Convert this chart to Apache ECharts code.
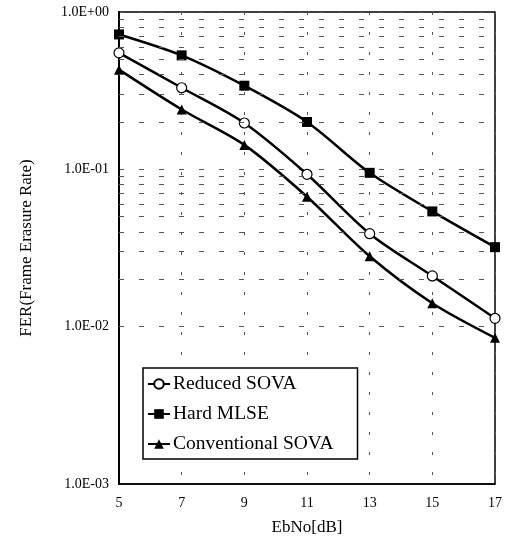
<!DOCTYPE html>
<html>
<head>
<meta charset="utf-8">
<script src="https://cdn.jsdelivr.net/npm/echarts@6/dist/echarts.min.js"></script>
<style>
  html, body { margin: 0; padding: 0; background: #fff; }
  #chart { width: 515px; height: 544px; }
</style>
</head>
<body>
<div id="chart"></div>
<script>
// x categories (EbNo in dB)
const ebno = ['5', '7', '9', '11', '13', '15', '17']

// FER values
const reducedSova = [0.55, 0.33, 0.197, 0.093, 0.039, 0.021, 0.0113]
const hardMlse = [0.72, 0.53, 0.34, 0.2, 0.095, 0.054, 0.032]
const conventionalSova = [0.43, 0.24, 0.143, 0.067, 0.028, 0.0141, 0.0085]

// minor log grid lines (2..9 of each decade)
const minorTicks = [
  0.002, 0.003, 0.004, 0.005, 0.006, 0.007, 0.008, 0.009,
  0.02, 0.03, 0.04, 0.05, 0.06, 0.07, 0.08, 0.09,
  0.2, 0.3, 0.4, 0.5, 0.6, 0.7, 0.8, 0.9
]

const FONT = '"Liberation Serif", "DejaVu Serif", serif'

// 0.01 -> "1.0E-02"
function sciLabel(v) {
  const exp = Math.round(Math.log10(v))
  const mant = v / Math.pow(10, exp)
  const sign = exp < 0 ? '-' : '+'
  const e = String(Math.abs(exp)).padStart(2, '0')
  return mant.toFixed(1) + 'E' + sign + e
}

const chart = echarts.init(document.getElementById('chart'))

const gridDash = { color: '#555', width: 1, type: [5, 15] }

chart.setOption({
  animation: false,
  grid: {
    left: 119, right: 20, top: 12, bottom: 60,
    show: true, borderColor: '#000', borderWidth: 1.5
  },
  legend: {
    orient: 'vertical',
    left: 143,
    top: 368,
    data: ['Reduced SOVA', 'Hard MLSE', 'Conventional SOVA'],
    backgroundColor: '#fff',
    borderColor: '#000',
    borderWidth: 1.5,
    padding: [6, 24, 5, 4],
    itemGap: 10,
    itemWidth: 22,
    itemHeight: 12,
    textStyle: { fontFamily: FONT, fontSize: 19.5, color: '#000', padding: [0, 0, 0, -2] }
  },
  xAxis: {
    type: 'category',
    data: ebno,
    boundaryGap: false,
    name: 'EbNo[dB]',
    nameLocation: 'middle',
    nameGap: 35,
    nameTextStyle: { fontFamily: FONT, fontSize: 17, color: '#000' },
    axisLine: { lineStyle: { color: '#000', width: 1.5 } },
    axisTick: { show: false },
    axisLabel: { fontFamily: FONT, fontSize: 14, color: '#000', margin: 12 },
    splitLine: { show: true, lineStyle: { color: '#555', width: 1, type: [3, 17] } }
  },
  yAxis: {
    type: 'log',
    logBase: 10,
    min: 0.001,
    max: 1,
    name: 'FER(Frame Erasure Rate)',
    nameLocation: 'middle',
    nameGap: 84,
    nameTextStyle: { fontFamily: FONT, fontSize: 17, color: '#000' },
    axisLine: { show: true, lineStyle: { color: '#000', width: 2 } },
    axisTick: { show: false },
    axisLabel: {
      fontFamily: FONT, fontSize: 14, color: '#000', margin: 10,
      formatter: sciLabel
    },
    splitLine: { show: true, lineStyle: gridDash }
  },
  series: [
    {
      name: 'grid',
      type: 'line',
      data: [],
      z: 1,
      markLine: {
        silent: true,
        symbol: 'none',
        label: { show: false },
        lineStyle: gridDash,
        data: minorTicks.map(v => ({ yAxis: v }))
      }
    },
    {
      name: 'Reduced SOVA',
      type: 'line',
      data: reducedSova,
      smooth: 0.3,
      symbol: 'circle',
      symbolSize: 10,
      itemStyle: { color: '#fff', borderColor: '#000', borderWidth: 1.2 },
      lineStyle: { color: '#000', width: 2.5 },
      z: 3
    },
    {
      name: 'Hard MLSE',
      type: 'line',
      data: hardMlse,
      smooth: 0.3,
      symbol: 'rect',
      symbolSize: 10,
      itemStyle: { color: '#000' },
      lineStyle: { color: '#000', width: 2.5 },
      z: 3
    },
    {
      name: 'Conventional SOVA',
      type: 'line',
      data: conventionalSova,
      smooth: 0.3,
      symbol: 'triangle',
      symbolSize: 10,
      itemStyle: { color: '#000' },
      lineStyle: { color: '#000', width: 2.5 },
      z: 3
    }
  ]
})
</script>
</body>
</html>
